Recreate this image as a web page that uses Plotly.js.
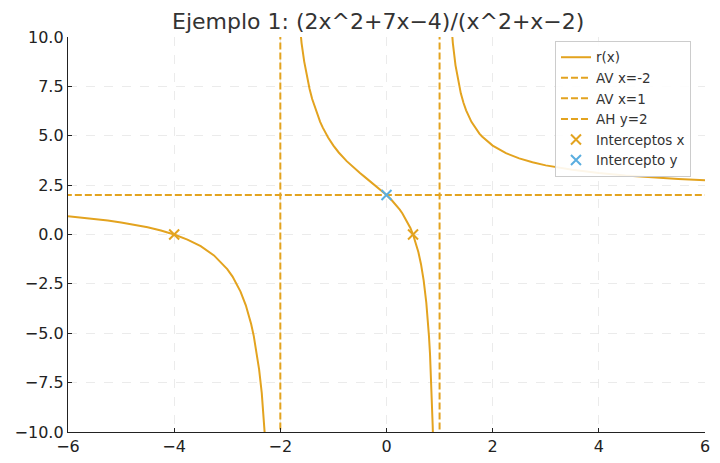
<!DOCTYPE html>
<html><head><meta charset="utf-8">
<script src="https://cdn.plot.ly/plotly-3.0.1.min.js"></script>
<style>html,body{margin:0;padding:0;background:#fff}#c{width:720px;height:463px}</style>
</head><body><div id="c"></div>
<script>
// Branch values (x < -2, -2 < x < 1, x > 1)
const x1 = [-6,-5.75,-5.5,-5.25,-5,-4.75,-4.5,-4.25,-4,-3.75,-3.5,-3.25,-3,-2.9,-2.75,-2.65,-2.6,-2.55,-2.5,-2.45,-2.4,-2.35,-2.3,-2.28,-2.25,-2.2];
const y1 = [0.929,0.864,0.791,0.708,0.611,0.498,0.364,0.201,0,-0.256,-0.593,-1.059,-1.75,-2.131,-2.889,-3.585,-4.019,-4.530,-5.143,-5.890,-6.824,-8.021,-9.616,-10.41,-11.7,-15.19];
const x2 = [-1.9,-1.8,-1.75,-1.7,-1.65,-1.62,-1.6,-1.55,-1.5,-1.45,-1.4,-1.3,-1.25,-1.2,-1.1,-1,-0.9,-0.75,-0.6,-0.5,-0.4,-0.25,-0.1,0,0.1,0.2,0.25,0.3,0.4,0.45,0.5,0.55,0.6,0.65,0.7,0.75,0.78,0.8,0.82,0.84,0.85,0.86,0.87,0.88,0.9];
const y2 = [34.76,18.07,14.73,12.49,10.895,10.14,9.69,8.754,8,7.380,6.861,6.037,5.704,5.409,4.910,4.5,4.153,3.714,3.339,3.111,2.893,2.571,2.239,2,1.735,1.432,1.259,1.068,0.611,0.330,0,-0.397,-0.885,-1.504,-2.321,-3.455,-4.377,-5.143,-6.077,-7.243,-7.942,-8.739,-9.66,-10.73,-13.5];
const x3 = [1.05,1.1,1.15,1.2,1.22,1.25,1.3,1.35,1.4,1.45,1.5,1.6,1.7,1.75,1.8,1.9,2,2.25,2.5,2.75,3,3.5,4,4.5,5,5.5,6];
const y3 = [36.4,19.74,14.17,11.375,10.61,9.692,8.566,7.757,7.147,6.670,6.286,5.704,5.282,5.111,4.961,4.707,4.5,4.118,3.852,3.654,3.5,3.273,3.111,2.989,2.893,2.815,2.75];
const avX = [-2, 1];
const ahY = 2;
const xIntX = [-4, 0.5], xIntY = [0, 0];
const yIntX = [0], yIntY = [2];
const xRange = [-6, 6], yRange = [-10, 10];
const xTicks = [-6,-4,-2,0,2,4,6];
const yTicks = [-10,-7.5,-5,-2.5,0,2.5,5,7.5,10];
const yTickText = ['\u221210.0','\u22127.5','\u22125.0','\u22122.5','0.0','2.5','5.0','7.5','10.0'];
const xTickText = ['\u22126','\u22124','\u22122','0','2','4','6'];

const C = '#e3a31f', B = '#5aaee0';
const line = {color: C, width: 2};
const dash = {color: C, width: 2, dash: '7px,3px'};
const traces = [
  {x: x1, y: y1, mode: 'lines', line: line, name: 'r(x)'},
  {x: x2, y: y2, mode: 'lines', line: line, name: 'r(x)', showlegend: false},
  {x: x3, y: y3, mode: 'lines', line: line, name: 'r(x)', showlegend: false},
  {x: [avX[0], avX[0]], y: [-20, 20], mode: 'lines', line: dash, name: 'AV x=-2'},
  {x: [avX[1], avX[1]], y: [-20, 20], mode: 'lines', line: dash, name: 'AV x=1'},
  {x: [-20, 20], y: [ahY, ahY], mode: 'lines', line: dash, name: 'AH y=2'},
  {x: xIntX, y: xIntY, mode: 'markers', marker: {symbol: 'x-thin', size: 10, line: {color: C, width: 2}, color: C}, name: 'Interceptos x'},
  {x: yIntX, y: yIntY, mode: 'markers', marker: {symbol: 'x-thin', size: 10, line: {color: B, width: 2}, color: B}, name: 'Intercepto y'}
];

const layout = {
  width: 720, height: 463,
  margin: {l: 68, r: 15, t: 37, b: 31},
  paper_bgcolor: '#fff', plot_bgcolor: '#fff',
  font: {family: 'DejaVu Sans, sans-serif', color: '#222', size: 16},
  title: {text: 'Ejemplo 1: (2x^2+7x\u22124)/(x^2+x\u22122)', font: {size: 22, color: '#333'}, xref: 'paper', x: 0.487, xanchor: 'center', y: 0.955, yanchor: 'middle'},
  xaxis: {range: xRange, tickvals: xTicks, ticktext: xTickText, ticks: 'inside', ticklen: 4, tickcolor: '#222',
          showline: true, linecolor: '#222', linewidth: 1.2, mirror: false, zeroline: false,
          showgrid: true, gridcolor: '#e6e6e6', griddash: 'dash', gridwidth: 0.8, tickfont: {size: 16}},
  yaxis: {range: yRange, tickvals: yTicks, ticktext: yTickText, ticks: 'inside', ticklen: 4, tickcolor: '#222',
          showline: true, linecolor: '#222', linewidth: 1.2, mirror: false, zeroline: false,
          showgrid: true, gridcolor: '#e6e6e6', griddash: 'dash', gridwidth: 0.8, tickfont: {size: 16}},
  legend: {x: 0.978, y: 0.99, xanchor: 'right', yanchor: 'top', bgcolor: 'rgba(255,255,255,0.9)',
           bordercolor: '#ccc', borderwidth: 1, font: {size: 13.5, color: '#333'}, tracegroupgap: 0, itemwidth: 30},
  showlegend: true
};
Plotly.newPlot('c', traces, layout, {staticPlot: true});
</script></body></html>
